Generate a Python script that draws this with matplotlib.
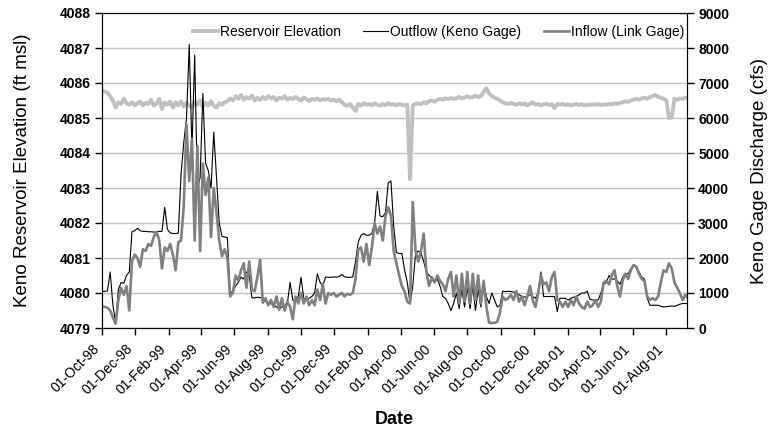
import pandas as pd
import numpy as np
import matplotlib
matplotlib.use("Agg")
import matplotlib.pyplot as plt
import matplotlib.dates as mdates

plt.rcParams['font.family'] = ['Liberation Sans', 'DejaVu Sans']

# valori, cate un punct la 5 zile incepand cu 01-Oct-98
start_date = '1998-10-01'

elevation = [
    4085.78, 4085.76, 4085.72, 4085.62, 4085.50, 4085.30, 4085.45, 4085.40, 4085.55, 4085.42,
    4085.38, 4085.45, 4085.36, 4085.42, 4085.47, 4085.36, 4085.44, 4085.40, 4085.52, 4085.35,
    4085.42, 4085.55, 4085.25, 4085.44, 4085.38, 4085.47, 4085.30, 4085.45, 4085.36, 4085.48,
    4085.33, 4085.44, 4085.36, 4085.30, 4085.46, 4085.38, 4085.50, 4085.32, 4085.44, 4085.36,
    4085.48, 4085.35, 4085.30, 4085.42, 4085.38, 4085.45, 4085.48, 4085.56, 4085.50, 4085.62,
    4085.55, 4085.66, 4085.52, 4085.60, 4085.55, 4085.64, 4085.50, 4085.58, 4085.52, 4085.60,
    4085.54, 4085.62, 4085.56, 4085.60, 4085.50, 4085.58, 4085.55, 4085.62, 4085.52, 4085.58,
    4085.54, 4085.60, 4085.55, 4085.50, 4085.58, 4085.54, 4085.48, 4085.55, 4085.52, 4085.56,
    4085.50, 4085.54, 4085.52, 4085.55, 4085.50, 4085.52, 4085.48, 4085.52, 4085.45, 4085.38,
    4085.35, 4085.40, 4085.30, 4085.20, 4085.40, 4085.35, 4085.42, 4085.38, 4085.40, 4085.36,
    4085.42, 4085.38, 4085.35, 4085.40, 4085.37, 4085.42, 4085.38, 4085.40, 4085.36, 4085.40,
    4085.38, 4085.36, 4085.38, 4083.25, 4085.36, 4085.40, 4085.42, 4085.40, 4085.45, 4085.42,
    4085.48, 4085.50, 4085.46, 4085.52, 4085.55, 4085.52, 4085.56, 4085.54, 4085.57, 4085.55,
    4085.56, 4085.60, 4085.56, 4085.58, 4085.62, 4085.58, 4085.60, 4085.64, 4085.60, 4085.62,
    4085.75, 4085.85, 4085.70, 4085.62, 4085.58, 4085.55, 4085.50, 4085.45, 4085.42, 4085.40,
    4085.43, 4085.40, 4085.38, 4085.42, 4085.39, 4085.41, 4085.36, 4085.40, 4085.45, 4085.38,
    4085.40, 4085.36, 4085.39, 4085.41, 4085.37, 4085.40, 4085.28, 4085.40, 4085.38, 4085.40,
    4085.37, 4085.39, 4085.36, 4085.38, 4085.40, 4085.37, 4085.39, 4085.36, 4085.38, 4085.37,
    4085.39, 4085.38, 4085.40, 4085.37, 4085.39, 4085.38, 4085.40, 4085.39, 4085.42, 4085.40,
    4085.43, 4085.45, 4085.48, 4085.46, 4085.50, 4085.52, 4085.55, 4085.52, 4085.56, 4085.58,
    4085.55, 4085.60, 4085.62, 4085.66, 4085.60, 4085.58, 4085.55, 4085.50, 4085.00, 4085.02,
    4085.55, 4085.52, 4085.56, 4085.55, 4085.58, 4085.56,
]

outflow = [
    1040, 1050, 1060, 1600, 650, 150, 1100, 1300, 1280, 1500,
    1600, 2750, 2780, 2850, 2780, 2760, 2760, 2750, 2750, 2740,
    2750, 2760, 2760, 3450, 2820, 2720, 2700, 2700, 2710, 4400,
    5300, 6000, 8100, 5100, 7800, 4000, 4300, 6700, 4700, 4500,
    4000, 5600, 4300, 3000, 2620, 2600, 2580, 1000, 1050, 1200,
    1300, 1450, 1400, 1600, 1500, 860, 860, 880, 870, 850,
    760, 720, 700, 650, 600, 550, 600, 650, 700, 1300,
    800, 750, 900, 1450, 850, 800, 850, 900, 1000, 1550,
    1300, 1200, 1450, 1450, 1450, 1460, 1450, 1470, 1530, 1460,
    1450, 1450, 1460, 1900, 2450, 2650, 2700, 2650, 2650, 2700,
    3000, 3900, 3200, 3180, 3300, 4150, 4200, 2900, 2150, 2130,
    2130, 1650, 1300, 700, 1200, 2100, 2200, 2150, 1900, 1600,
    1500, 1450, 1300, 1400, 1200, 900, 850, 700, 500, 700,
    1000, 550, 1100, 600, 1150, 550, 1200, 500, 1100, 600,
    1300, 900, 700, 1000, 800, 600, 650, 1050, 1040, 1050,
    1040, 1030, 1000, 950, 900, 880, 900, 950, 900, 850,
    1000, 1600, 900, 900, 900, 900, 900, 470, 850, 850,
    850, 800, 850, 880, 900, 950, 1000, 1000, 1050, 820,
    800, 800, 800, 1000, 1250, 1300, 1500, 1400, 1400, 1350,
    1250, 1450, 1550, 1550, 1700, 1800, 1750, 1600, 1450, 1400,
    850, 650, 650, 650, 650, 620, 600, 610, 620, 630,
    620, 650, 680, 700, 700, 700,
]

inflow = [
    620, 600, 580, 500, 300, 120, 800, 1150, 950, 1200,
    500, 1900, 2100, 2000, 1750, 2250, 2200, 2400, 2350, 2600,
    2750, 2500, 1700, 2300, 2200, 2400, 2100, 1650, 2450, 2500,
    3500, 5800, 4200, 5400, 2500, 5200, 2200, 4700, 3800, 4300,
    2600, 4000, 3300, 2500, 2050, 2250, 2000, 900, 1000, 1500,
    1350, 1650, 1850, 1150, 1900, 1100, 1050, 1450, 1950, 720,
    850, 650, 800, 600, 900, 520, 850, 500, 750, 600,
    250, 900, 700, 1000, 700, 900, 650, 800, 650, 1100,
    800, 1250, 700, 1000, 950, 1000, 900, 950, 1000, 900,
    980, 950, 1000, 1400, 2250, 2300, 1900, 2400, 1800, 2300,
    3000, 2700, 2900, 2500, 3200, 3450, 3200, 2200, 1850, 1500,
    1200, 1050, 750, 700, 3600, 2200, 1900, 2200, 2700, 1600,
    1200, 1450, 1300, 1500, 1350, 1250, 1050, 1400, 1600, 900,
    1500, 700, 1550, 750, 1600, 700, 1550, 800, 1500, 700,
    1350, 600, 150, 140, 150, 180, 450, 900, 800, 850,
    950, 800, 1050, 750, 900, 650, 900, 1200, 800, 600,
    1000, 1500, 1250, 1300, 1050, 1450, 1600, 800, 750, 600,
    750, 600, 800, 650, 900, 700, 600, 550, 750, 600,
    650, 800, 600, 750, 1300, 1350, 1250, 1500, 1650, 1200,
    900, 1350, 1550, 1400, 1650, 1800, 1750, 1550, 1400, 1350,
    900, 800, 850, 800, 900, 1300, 1650, 1600, 1850, 1700,
    1300, 1150, 1000, 800, 950, 850,
]

assert len(elevation) == len(outflow) == len(inflow)
dates = pd.date_range(start_date, periods=len(outflow), freq='5D')

fig = plt.figure(figsize=(7.83, 4.32), dpi=100)
ax = fig.add_axes([102 / 783, 1 - 328 / 432, 585 / 783, 315 / 432])
ax2 = ax.twinx()

l_elev, = ax.plot(dates, elevation, color='#c0c0c0', lw=2.8, label='Reservoir Elevation')
l_out, = ax2.plot(dates, outflow, color='black', lw=0.8, label='Outflow (Keno Gage)')
l_in, = ax2.plot(dates, inflow, color='#808080', lw=1.9, label='Inflow (Link Gage)')

ax.set_xlim(pd.Timestamp('1998-10-01'), pd.Timestamp('2001-09-08'))
ax.set_ylim(4079, 4088)
ax2.set_ylim(0, 9000)
ax.set_yticks(np.arange(4079, 4089, 1))
ax2.set_yticks(np.arange(0, 9001, 1000))

ax.yaxis.grid(True, color='#c0c0c0', lw=1)
ax.set_axisbelow(True)

ax.xaxis.set_major_locator(mdates.MonthLocator(bymonth=[2, 4, 6, 8, 10, 12], bymonthday=1))
ax.xaxis.set_major_formatter(mdates.DateFormatter('%d-%b-%y'))
for lbl in ax.get_xticklabels():
    lbl.set_rotation(45)
    lbl.set_ha('right')
    lbl.set_fontsize(10)

ax.tick_params(axis='x', direction='out', length=5, width=1, pad=5)
ax.tick_params(axis='y', direction='out', length=5, width=1, labelsize=10, pad=3)
ax2.tick_params(axis='y', direction='out', length=5, width=1, labelsize=10, pad=3)
for lbl in ax.get_yticklabels() + ax2.get_yticklabels():
    lbl.set_fontweight('bold')

ax.set_ylabel('Keno Reservoir Elevation (ft msl)', fontsize=13.5)
ax2.set_ylabel('Keno Gage Discharge (cfs)', fontsize=13.5)
ax.set_xlabel('Date', fontsize=13, fontweight='bold')
ax.yaxis.set_label_coords(-0.121, 0.5)
ax2.yaxis.set_label_coords(1.109, 0.5)
ax.xaxis.set_label_coords(0.5, -0.265)

ax2.legend([l_elev, l_out, l_in], [l_elev.get_label(), l_out.get_label(), l_in.get_label()],
           loc='upper right', bbox_to_anchor=(0.995, 0.962), ncol=3, frameon=False,
           fontsize=10, handlelength=1.8, handletextpad=0.15, columnspacing=1.6,
           borderaxespad=0, borderpad=0)

plt.savefig('out.png', dpi=100)
